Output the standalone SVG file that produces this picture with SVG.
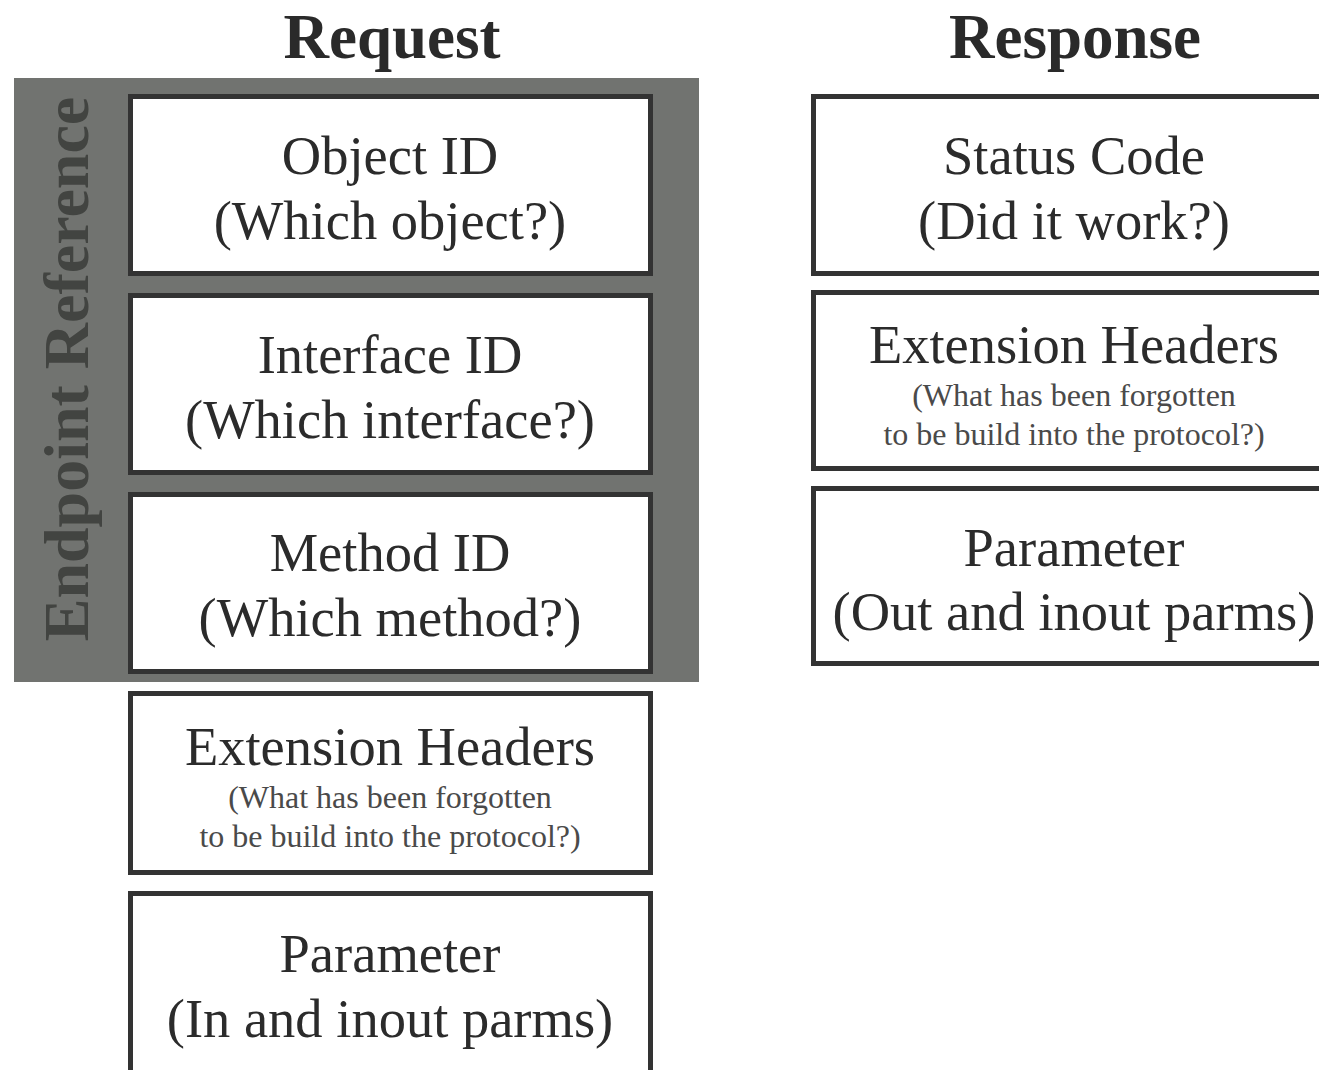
<svg xmlns="http://www.w3.org/2000/svg" width="1319" height="1070" viewBox="0 0 1319 1070">
  <style>
    .title { font-family: "Liberation Serif", "Times New Roman", serif; font-weight: bold; font-size: 63px; fill: #2a2a2a; text-anchor: middle; }
    .box { fill: #fff; stroke: #333; stroke-width: 5; }
    .main { font-family: "Liberation Serif", "Times New Roman", serif; font-size: 54.5px; fill: #2b2b2b; text-anchor: middle; }
    .small { font-family: "Liberation Serif", "Times New Roman", serif; font-size: 32px; fill: #4a4a4a; text-anchor: middle; }
    .side { font-family: "Liberation Serif", "Times New Roman", serif; font-weight: bold; font-size: 64px; fill: #424441; text-anchor: middle; }
  </style>
  <rect width="1319" height="1070" fill="#fff"/>

  <text class="title" x="392" y="58">Request</text>
  <text class="title" x="1075" y="58">Response</text>

  <!-- endpoint reference panel -->
  <g id="endpoint-reference">
    <rect x="14" y="78" width="685" height="604" fill="#717370"/>
    <text class="side" transform="translate(88 369) rotate(-90)">Endpoint Reference</text>
  </g>

  <g id="connectors"></g>

  <!-- request fields -->
  <g id="req-object-id">
    <rect class="box" x="130.5" y="96.5" width="520" height="177"/>
    <text class="main" x="390" y="174">Object ID</text>
    <text class="main" x="390" y="239">(Which object?)</text>
  </g>
  <g id="req-interface-id">
    <rect class="box" x="130.5" y="295.5" width="520" height="177"/>
    <text class="main" x="390" y="373">Interface ID</text>
    <text class="main" x="390" y="438">(Which interface?)</text>
  </g>
  <g id="req-method-id">
    <rect class="box" x="130.5" y="494.5" width="520" height="177"/>
    <text class="main" x="390" y="571">Method ID</text>
    <text class="main" x="390" y="636">(Which method?)</text>
  </g>
  <g id="req-extension-headers">
    <rect class="box" x="130.5" y="693.5" width="520" height="179"/>
    <text class="main" x="390" y="765">Extension Headers</text>
    <text class="small" x="390" y="808">(What has been forgotten</text>
    <text class="small" x="390" y="847">to be build into the protocol?)</text>
  </g>
  <g id="req-parameter">
    <rect class="box" x="130.5" y="893.5" width="520" height="190"/>
    <text class="main" x="390" y="972">Parameter</text>
    <text class="main" x="390" y="1037">(In and inout parms)</text>
  </g>

  <!-- response fields -->
  <g id="resp-status-code">
    <rect class="box" x="813.5" y="96.5" width="520" height="177"/>
    <text class="main" x="1074" y="174">Status Code</text>
    <text class="main" x="1074" y="239">(Did it work?)</text>
  </g>
  <g id="resp-extension-headers">
    <rect class="box" x="813.5" y="292.5" width="520" height="176"/>
    <text class="main" x="1074" y="363">Extension Headers</text>
    <text class="small" x="1074" y="406">(What has been forgotten</text>
    <text class="small" x="1074" y="445">to be build into the protocol?)</text>
  </g>
  <g id="resp-parameter">
    <rect class="box" x="813.5" y="488.5" width="520" height="175"/>
    <text class="main" x="1074" y="566">Parameter</text>
    <text class="main" x="1074" y="630">(Out and inout parms)</text>
  </g>
</svg>
